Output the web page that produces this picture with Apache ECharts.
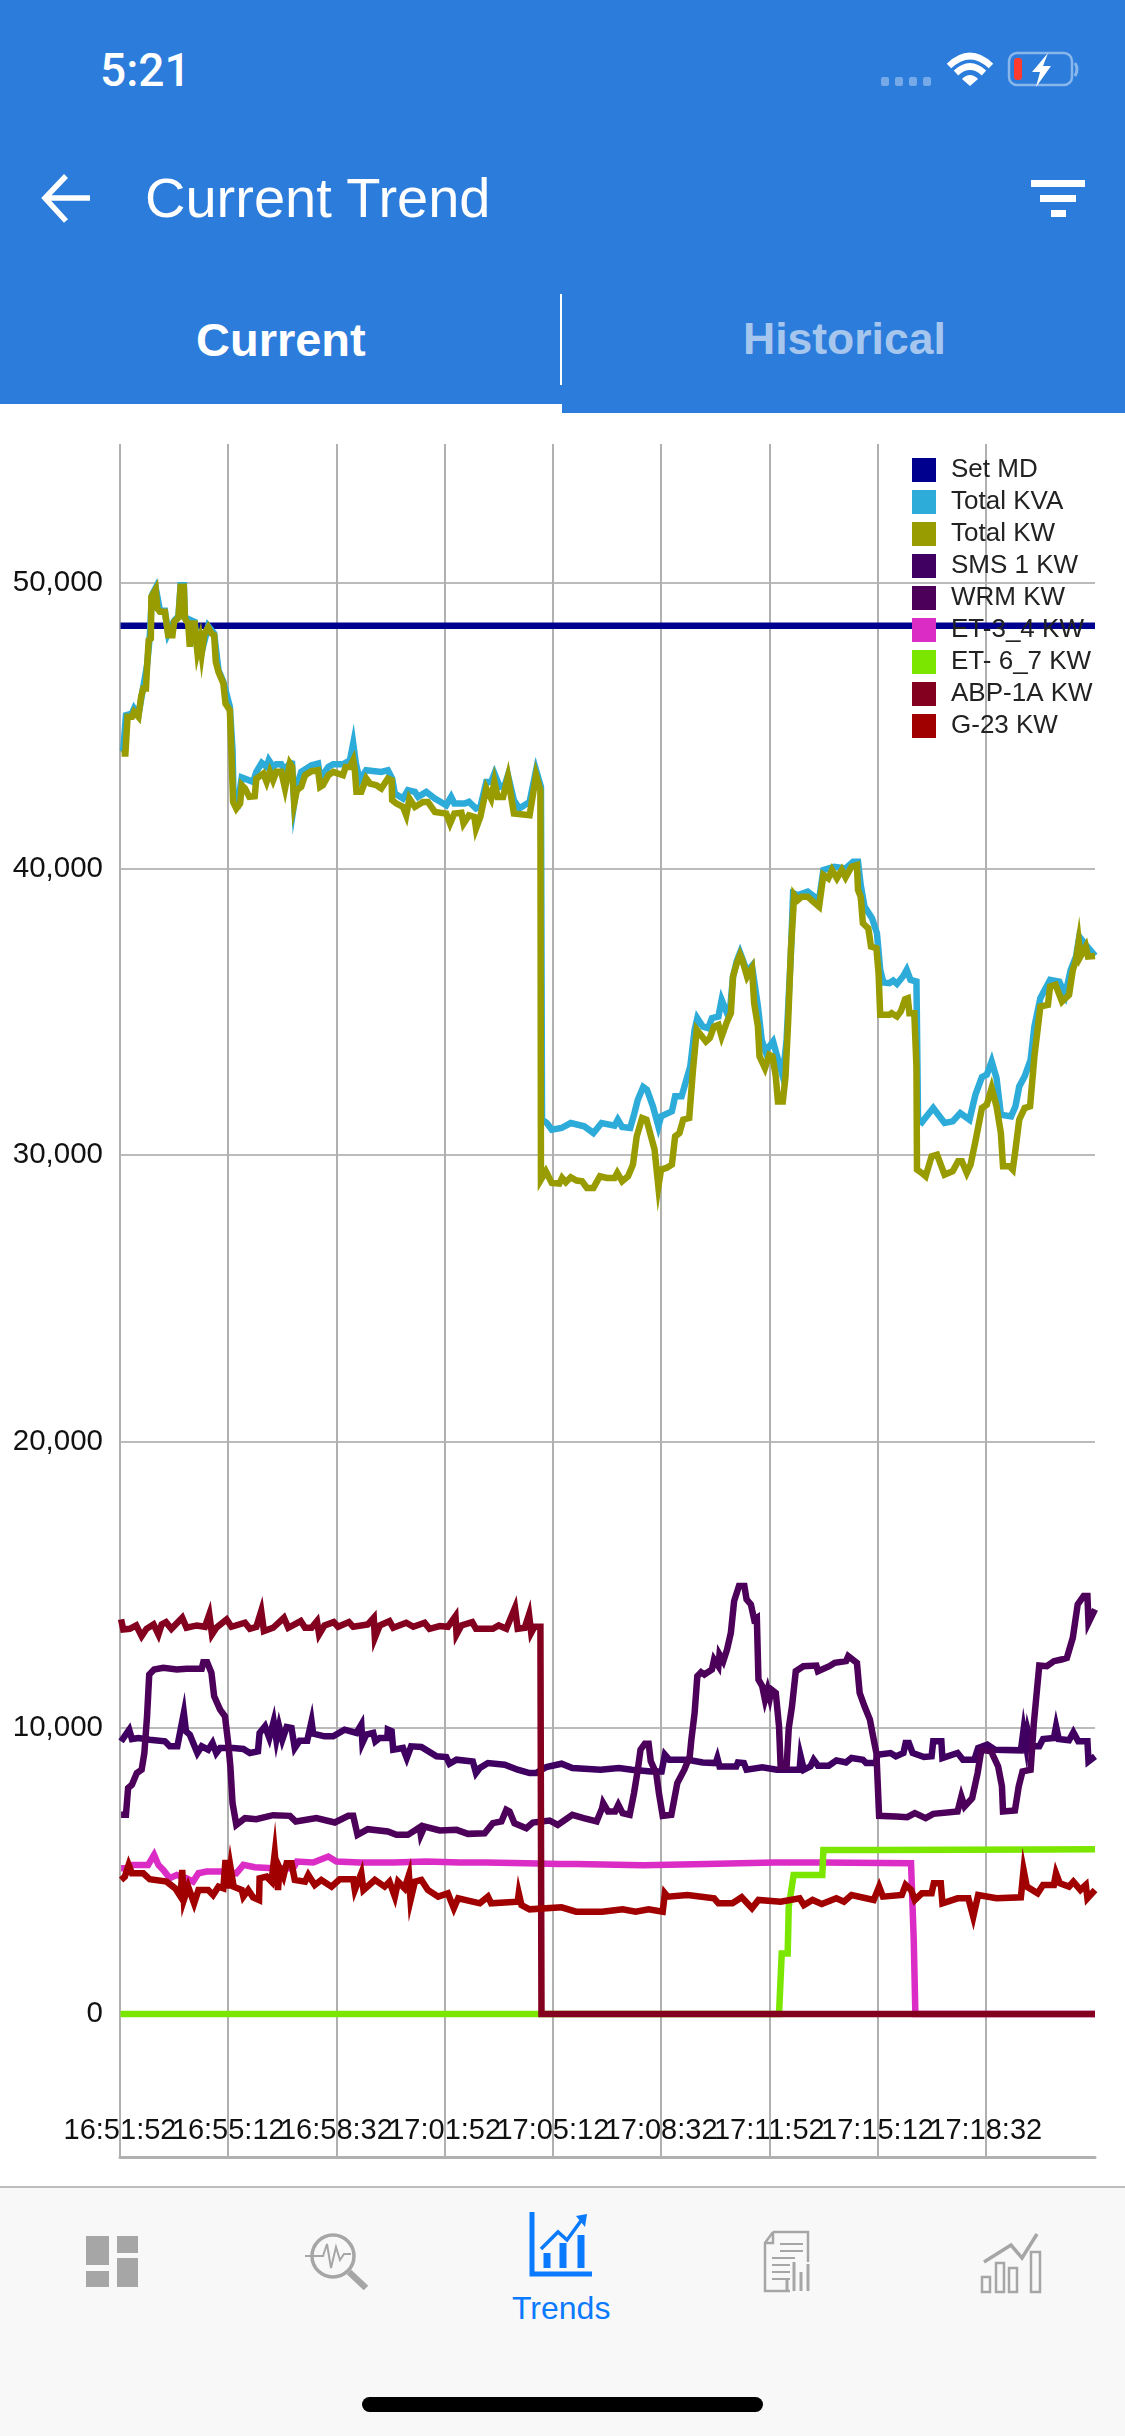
<!DOCTYPE html>
<html>
<head>
<meta charset="utf-8">
<title>Current Trend</title>
<script src="https://cdn.jsdelivr.net/npm/echarts@6/dist/echarts.min.js"></script>
<style>
  html, body { margin: 0; padding: 0; background: #fff; }
  #screen { position: relative; width: 1125px; height: 2436px; overflow: hidden; font-family: "Liberation Sans", sans-serif; }
  #chart { position: absolute; left: 0; top: 0; width: 1125px; height: 2436px; }
  .bar { position: absolute; }
  .label { position: absolute; white-space: nowrap; line-height: 1; }
  svg.icon { position: absolute; left: 0; top: 0; }
</style>
</head>
<body>
<div id="screen">
  <div id="chart"></div>

  <!-- App header -->
  <div class="bar" style="left:0;top:0;width:1125px;height:404px;background:#2b7cdb"></div>
  <div class="bar" style="left:562px;top:404px;width:563px;height:9px;background:#2b7cdb"></div>
  <div class="bar" style="left:560px;top:294px;width:2px;height:91px;background:#fff"></div>
  <div class="label" style="left:100px;top:43px;font:500 46px Roboto;color:#fff">5:21</div>
  <div class="label" style="left:145px;top:170px;font-size:56px;color:#fff">Current Trend</div>
  <div class="label" style="left:196px;top:316px;font-size:47px;font-weight:bold;color:#fff">Current</div>
  <div class="label" style="left:743px;top:317px;font-size:44.5px;font-weight:bold;color:#a6c6ee">Historical</div>

  <!-- Tab bar -->
  <div class="bar" style="left:0;top:2186px;width:1125px;height:250px;background:#f8f8f8;border-top:2px solid #bdbdbd;box-sizing:border-box"></div>
  <div class="label" style="left:512px;top:2292px;font-size:32px;color:#0a7aff">Trends</div>
  <div class="bar" style="left:362px;top:2397px;width:401px;height:15px;border-radius:8px;background:#000"></div>

  <svg class="icon" width="1125" height="2436" viewBox="0 0 1125 2436" fill="none">
    <!-- status bar -->
    <g fill="#fff" fill-opacity="0.35">
      <rect x="881" y="77" width="8" height="9" rx="2"/><rect x="895" y="77" width="8" height="9" rx="2"/>
      <rect x="909" y="77" width="8" height="9" rx="2"/><rect x="923" y="77" width="8" height="9" rx="2"/>
    </g>
    <g stroke="#fff" stroke-width="6.5" stroke-linecap="butt">
      <path d="M949 66 Q970 46 991 66"/><path d="M956 73 Q970 60 984 73"/>
    </g>
    <path d="M962 79 Q970 71 978 79 L970 86 Z" fill="#fff"/>
    <rect x="1009" y="53" width="63" height="32" rx="8" stroke="#fff" stroke-opacity="0.45" stroke-width="2.5"/>
    <path d="M1075 63 Q1079 69 1075 76" stroke="#fff" stroke-opacity="0.45" stroke-width="3"/>
    <rect x="1014" y="58" width="8" height="22" rx="3" fill="#ff3b30"/>
    <path d="M1048 53 L1032 72 L1040 72 L1036 87 L1051 66 L1043 66 Z" fill="#fff"/>
    <!-- back arrow -->
    <path d="M66 176 L45 198 L66 221 M45 198 H90" stroke="#fff" stroke-width="5.5"/>
    <!-- filter -->
    <g fill="#fff">
      <rect x="1031" y="180" width="54" height="7"/><rect x="1040" y="195" width="36" height="7"/><rect x="1051" y="210" width="15" height="7"/>
    </g>
    <!-- dashboard icon -->
    <g fill="#a6a6a6">
      <rect x="86" y="2236" width="23" height="29"/><rect x="117" y="2236" width="21" height="17"/>
      <rect x="86" y="2271" width="23" height="16"/><rect x="117" y="2258" width="21" height="29"/>
    </g>
    <!-- diagnostics icon -->
    <g stroke="#a6a6a6">
      <circle cx="333" cy="2256" r="21" stroke-width="3.5"/>
      <path d="M349 2272 L366 2288" stroke-width="6.5"/>
      <path d="M305 2256 H323 L327 2244 L331 2268 L336 2247 L340 2260 L344 2254 H351" stroke-width="2"/>
    </g>
    <!-- trends icon -->
    <g stroke="#0a7aff">
      <path d="M532 2212 V2274 H592" stroke-width="5"/>
      <path d="M541 2249 L558 2232 L567 2240 L583 2218" stroke-width="3.5"/>
      <path d="M547 2268 V2253 M563 2268 V2243 M581 2268 V2235" stroke-width="7"/>
    </g>
    <path d="M576 2216 L587 2214 L585 2227 Z" fill="#0a7aff"/>
    <!-- reports icon -->
    <g stroke="#a6a6a6">
      <path d="M773 2232 H808 V2262 M773 2232 L765 2243 V2291 H790 M773 2232 V2243 H765" stroke-width="2.5"/>
      <path d="M780 2244 H803 M780 2251 H803 M772 2258 H795 M772 2265 H790 M772 2272 H790 M772 2279 H790" stroke-width="2"/>
      <path d="M787 2291 V2280 M794 2291 V2262 M801 2291 V2272 M808 2291 V2264" stroke-width="3"/>
    </g>
    <!-- analytics icon -->
    <g stroke="#a6a6a6" stroke-width="2.5">
      <rect x="982" y="2277" width="8" height="15"/><rect x="996" y="2263" width="8" height="29"/>
      <rect x="1009" y="2268" width="8" height="24"/><rect x="1031" y="2252" width="9" height="40"/>
      <path d="M984 2262 L1011 2245 L1022 2258 L1037 2234" stroke-width="3.5"/>
    </g>
  </svg>
</div>
<script>
// Axis ticks: seconds since 16:51:52 and load in kW
var tickSeconds = [0, 200, 400, 600, 800, 1000, 1200, 1400, 1600];
var tickLabels = ['16:51:52', '16:55:12', '16:58:32', '17:01:52', '17:05:12', '17:08:32', '17:11:52', '17:15:12', '17:18:32'];
var loadTicks = [0, 10000, 20000, 30000, 40000, 50000];
var windowEnd = 1802;

var seriesNames = ['Set MD', 'Total KVA', 'Total KW', 'SMS 1 KW', 'WRM KW', 'ET-3_4 KW', 'ET- 6_7 KW', 'ABP-1A KW', 'G-23 KW'];
var seriesColors = ['#00008f', '#2dabd9', '#999c00', '#400062', '#4d005a', '#db2cc6', '#7be600', '#83001f', '#a00000'];

// Readings as [seconds, kW]
var setMd = [[1, 48500], [1802, 48500]];

var totalKva = [[2,44100],[6,44150],[11,45375],[22,45433],[26,45608],[34,45375],[43,46365],[50,47122],[55,48113],[59,49569],[66,49825],[74,49021],[83,49021],[89,48229],[100,48672],[108,48835],[112,49918],[118,49918],[120,48788],[138,48637],[143,47647],[151,47588],[163,48486],[174,48229],[182,46948],[191,46540],[203,45666],[208,44152],[210,42404],[218,42288],[225,43197],[246,43045],[252,43395],[262,43709],[271,43569],[275,43802],[283,43569],[289,43662],[298,43662],[305,43453],[314,43709],[318,43686],[322,42300],[327,42928],[335,43395],[354,43628],[366,43686],[370,43162],[385,43569],[394,43662],[412,43662],[425,43802],[431,44385],[436,43686],[443,43103],[455,43453],[483,43395],[495,43453],[503,43162],[508,42637],[523,42463],[532,42754],[545,42696],[551,42521],[566,42696],[582,42463],[603,42229],[612,42521],[618,42288],[637,42288],[645,42346],[658,42113],[666,42171],[677,43045],[686,43045],[692,43337],[702,42870],[711,42929],[717,43278],[728,42404],[738,42113],[757,42346],[769,43453],[778,42870],[780,31243],[789,31126],[798,30894],[816,30952],[833,31126],[858,31010],[875,30778],[890,31126],[914,31033],[920,31243],[928,30987],[943,30952],[950,31417],[957,31941],[967,32382],[974,32289],[985,31708],[995,31010],[1000,31359],[1020,31534],[1026,32057],[1038,32057],[1045,32522],[1054,33103],[1062,34383],[1067,34790],[1077,34499],[1087,34441],[1094,34790],[1106,34848],[1112,35430],[1122,34964],[1128,35197],[1133,36244],[1140,36790],[1146,37081],[1159,36418],[1168,36616],[1179,35197],[1186,34034],[1193,33627],[1207,33976],[1218,33220],[1225,32755],[1232,34034],[1240,37058],[1244,39151],[1253,39093],[1271,39209],[1292,38918],[1300,39965],[1320,40081],[1341,40023],[1355,40256],[1364,40256],[1369,39442],[1376,38686],[1390,38279],[1399,37755],[1405,36476],[1411,36034],[1422,36011],[1429,36104],[1436,35988],[1447,36244],[1454,36476],[1461,36127],[1472,36069],[1475,31243],[1482,31150],[1493,31417],[1503,31650],[1524,31126],[1539,31185],[1553,31475],[1570,31243],[1581,32115],[1593,32731],[1602,32813],[1611,33278],[1620,32696],[1628,31417],[1647,31359],[1655,31708],[1662,32406],[1672,32755],[1683,33336],[1690,34499],[1701,35488],[1719,36127],[1736,36069],[1747,35604],[1757,36476],[1767,36941],[1773,37639],[1785,37348],[1802,36964]];

var totalKw = [[3,44035],[10,44035],[14,45317],[22,45317],[26,45490],[34,45317],[39,46015],[43,46307],[48,46307],[50,47064],[53,47996],[57,48054],[58,49511],[66,49767],[69,49103],[74,48987],[83,48987],[89,48171],[97,48171],[100,48637],[108,48788],[112,49860],[118,49860],[120,48754],[126,48579],[129,47763],[132,48579],[138,48579],[143,47588],[148,47996],[151,47530],[156,48229],[163,48439],[169,48229],[174,48171],[177,47239],[182,46889],[191,46482],[195,45783],[203,45550],[206,44035],[209,42346],[215,42113],[222,42288],[225,42928],[231,42812],[239,42521],[249,42544],[252,43162],[265,43337],[271,43045],[277,43395],[283,43103],[289,43395],[298,43395],[305,42812],[314,43686],[318,43569],[322,42300],[327,42754],[335,42870],[342,43278],[354,43418],[366,43453],[370,42870],[375,42928],[385,43278],[394,43395],[412,43278],[417,43569],[425,43569],[431,43802],[434,43453],[437,42696],[446,42696],[455,43162],[462,42987],[474,42928],[483,42812],[495,43162],[502,43103],[503,42404],[511,42288],[523,42171],[529,41880],[535,42463],[545,42171],[560,42346],[569,42346],[582,41997],[603,41938],[610,41589],[618,41938],[631,41962],[635,41589],[645,41880],[655,41822],[658,41414],[666,41822],[677,42812],[686,42463],[692,43045],[698,42521],[708,42521],[717,43220],[728,41938],[757,41880],[769,43278],[777,42754],[778,29150],[787,29440],[798,29033],[812,29010],[817,29207],[824,29056],[833,29230],[844,29115],[854,29091],[863,28858],[875,28858],[887,29265],[900,29207],[914,29207],[919,29381],[928,29091],[939,29265],[948,29672],[955,30661],[965,31300],[973,31243],[988,30196],[995,28900],[1000,29498],[1010,29556],[1020,29672],[1026,30661],[1034,30777],[1041,31243],[1052,31300],[1059,32987],[1066,34383],[1083,33976],[1090,34092],[1098,34499],[1106,34557],[1112,34150],[1122,34673],[1129,34964],[1133,36244],[1140,36709],[1146,37000],[1150,36825],[1159,36244],[1168,36534],[1172,35313],[1179,34499],[1182,33452],[1192,33045],[1200,33510],[1206,33452],[1212,32755],[1216,31882],[1225,31882],[1230,32755],[1235,34732],[1240,37174],[1246,39093],[1253,38918],[1260,39035],[1271,39035],[1281,38860],[1292,38686],[1300,39791],[1309,39674],[1316,39965],[1325,39674],[1334,39965],[1341,39709],[1352,40081],[1362,40140],[1364,39267],[1369,39035],[1373,38104],[1383,37930],[1388,37290],[1398,37232],[1402,36360],[1405,34906],[1422,34906],[1426,34964],[1436,34848],[1443,35022],[1451,35453],[1456,35487],[1459,34964],[1468,34964],[1472,33103],[1473,29498],[1482,29381],[1489,29265],[1500,29963],[1510,30021],[1524,29323],[1539,29440],[1549,29789],[1556,29789],[1565,29381],[1572,29672],[1581,30487],[1593,31650],[1602,31766],[1611,32347],[1620,31708],[1628,30777],[1632,29614],[1644,29614],[1650,29498],[1655,30196],[1662,31243],[1672,31650],[1682,31708],[1690,33452],[1701,35197],[1715,35255],[1719,35895],[1729,35953],[1741,35371],[1754,35604],[1761,36476],[1767,36825],[1772,37465],[1775,36941],[1785,37290],[1789,36941],[1802,36964]];

var sms1Kw = [[2,9523],[17,9931],[22,9604],[34,9640],[55,9581],[83,9523],[92,9348],[106,9348],[118,10515],[122,9873],[129,9756],[143,9114],[151,9348],[163,9231],[171,9464],[178,9114],[185,9289],[209,9289],[228,9254],[240,9114],[255,9173],[258,9814],[268,10048],[276,9640],[284,10223],[289,9581],[294,10048],[300,9581],[308,10024],[317,9990],[323,9289],[332,9546],[346,9546],[354,10223],[357,9791],[378,9698],[394,9698],[415,9931],[437,9814],[446,10106],[448,9464],[455,9756],[468,9814],[472,9523],[480,9640],[494,9640],[495,9931],[502,9873],[505,9231],[523,9289],[530,8939],[538,9348],[557,9324],[585,8998],[603,8974],[609,8741],[622,8881],[652,8822],[658,8414],[665,8589],[680,8764],[711,8706],[735,8531],[757,8414],[769,8414],[788,8624],[816,8741],[836,8589],[888,8531],[922,8589],[946,8531],[981,8473],[1001,8473],[1007,9056],[1015,8881],[1049,8881],[1077,8787],[1101,8764],[1104,8939],[1108,8647],[1139,8647],[1142,8787],[1153,8764],[1158,8531],[1187,8612],[1214,8531],[1256,8531],[1258,8998],[1264,8531],[1276,8647],[1282,8881],[1290,8671],[1310,8671],[1324,8858],[1342,8787],[1352,8939],[1373,8881],[1379,8764],[1397,8764],[1400,9056],[1424,9114],[1434,8998],[1448,9114],[1452,9464],[1458,9464],[1465,9114],[1486,8974],[1500,8998],[1503,9523],[1518,9523],[1520,8939],[1548,9114],[1558,8881],[1579,8881],[1586,9289],[1603,9406],[1617,9231],[1665,9207],[1670,9931],[1675,9348],[1678,9873],[1685,9348],[1699,9348],[1706,9604],[1726,9640],[1730,10048],[1735,9604],[1754,9558],[1762,9838],[1771,9523],[1788,9523],[1790,8822],[1802,8998]];

var wrmKw = [[2,6955],[11,6955],[15,7889],[22,8006],[31,8414],[40,8531],[45,9114],[50,10398],[54,11857],[63,12032],[80,12090],[105,12032],[123,12055],[151,12055],[154,12289],[161,12289],[169,11915],[174,11098],[185,10632],[194,10398],[200,9464],[204,8647],[208,7364],[215,6605],[231,6839],[252,6804],[283,6944],[314,6920],[325,6722],[363,6839],[397,6687],[422,6920],[431,6920],[439,6255],[458,6454],[495,6372],[511,6255],[532,6255],[554,6524],[556,6255],[563,6547],[591,6407],[622,6430],[643,6290],[674,6313],[689,6664],[705,6722],[714,7130],[720,7072],[729,6664],[751,6489],[763,6687],[794,6757],[809,6605],[836,6955],[857,6839],[881,6722],[891,7189],[893,7364],[902,7072],[915,7072],[921,7305],[929,7014],[942,6955],[950,7714],[957,8531],[962,9231],[970,9441],[977,9441],[981,8822],[991,8414],[996,7714],[1003,6920],[1019,6955],[1030,8064],[1043,8531],[1053,8998],[1056,9581],[1062,10515],[1067,11799],[1074,11938],[1080,11857],[1094,12032],[1098,12382],[1106,12148],[1108,12557],[1115,12324],[1122,12732],[1129,13316],[1135,14424],[1144,14949],[1154,14949],[1158,14482],[1166,14307],[1172,13783],[1177,13841],[1180,11682],[1187,11448],[1192,10982],[1197,11332],[1201,11040],[1204,11332],[1212,11215],[1218,10048],[1221,8647],[1232,8647],[1236,9990],[1242,10748],[1249,11973],[1263,12148],[1287,12172],[1290,11973],[1311,12148],[1321,12265],[1342,12324],[1346,12499],[1362,12265],[1367,11215],[1376,10748],[1386,10281],[1393,9581],[1398,9114],[1403,6920],[1434,6897],[1455,6874],[1469,7014],[1489,6839],[1503,6990],[1548,7072],[1555,7597],[1561,7247],[1575,7539],[1585,8414],[1592,9231],[1610,9173],[1623,8647],[1630,7947],[1632,7072],[1654,7107],[1661,7947],[1668,8472],[1683,8531],[1689,10165],[1699,12172],[1713,12148],[1726,12324],[1740,12382],[1750,12440],[1761,13141],[1770,14307],[1781,14599],[1788,14599],[1790,13666],[1802,14132]];

var et34Kw = [[2,5088],[12,5088],[22,5205],[37,5205],[52,5205],[63,5555],[71,5205],[80,5030],[92,4738],[105,4855],[123,4738],[135,4621],[145,4913],[160,4971],[191,4971],[215,4913],[228,5205],[249,5123],[283,5088],[320,5088],[327,5322],[357,5287],[385,5497],[400,5322],[443,5287],[505,5287],[566,5322],[628,5287],[677,5287],[751,5263],[812,5240],[843,5240],[967,5193],[1084,5240],[1208,5287],[1297,5287],[1462,5263],[1467,2579],[1470,0],[1802,0]];

var et67Kw = [[1,0],[1218,0],[1223,2112],[1234,2112],[1236,3746],[1245,4855],[1298,4855],[1300,5730],[1400,5725],[1550,5735],[1700,5745],[1802,5753]];

var abp1aKw = [[2,13782],[6,13432],[18,13455],[30,13572],[40,13199],[49,13455],[62,13607],[71,13257],[77,13607],[85,13689],[95,13455],[115,13840],[123,13490],[142,13572],[157,13525],[165,13957],[170,13257],[178,13490],[197,13782],[206,13525],[231,13666],[240,13455],[252,13525],[261,14074],[266,13373],[283,13490],[303,13840],[311,13490],[334,13724],[342,13490],[354,13490],[364,13724],[368,13257],[378,13572],[395,13689],[403,13525],[423,13689],[431,13525],[458,13607],[469,13840],[471,13140],[480,13572],[498,13724],[505,13490],[529,13666],[542,13525],[563,13666],[572,13455],[591,13549],[606,13525],[620,13899],[622,13257],[631,13572],[651,13689],[658,13455],[689,13455],[700,13572],[714,13455],[730,14191],[735,13455],[748,13490],[756,13957],[760,13315],[766,13525],[777,13525],[779,0],[1802,0]];

var g23Kw = [[2,4680],[9,4796],[16,5205],[22,4913],[43,4913],[55,4703],[86,4621],[102,4388],[112,4096],[115,5030],[118,3980],[126,4446],[137,3863],[145,4330],[163,4330],[172,4155],[182,4446],[191,4388],[195,5380],[199,4388],[204,5146],[210,4446],[225,4330],[228,4096],[237,4330],[246,4073],[257,3980],[258,4738],[271,4796],[280,4621],[286,5613],[292,4330],[295,5088],[302,4796],[308,5263],[317,5263],[323,4680],[342,4621],[348,4855],[360,4505],[372,4680],[391,4446],[406,4703],[431,4703],[434,4330],[446,4913],[450,4330],[471,4680],[489,4446],[498,4621],[508,4096],[514,4621],[526,4388],[534,4855],[537,3980],[545,4621],[557,4680],[569,4330],[588,4096],[606,4213],[617,3688],[625,4038],[665,3863],[680,4096],[686,3863],[735,3921],[737,4213],[742,3804],[757,3653],[816,3723],[843,3571],[891,3571],[929,3653],[953,3571],[977,3653],[1003,3571],[1007,4213],[1012,4096],[1049,4155],[1098,4038],[1106,3863],[1132,3863],[1149,4073],[1168,3688],[1180,3980],[1221,3921],[1256,4038],[1264,3804],[1280,3980],[1297,3840],[1324,4038],[1338,3921],[1352,4155],[1393,3980],[1403,4446],[1410,4096],[1445,4155],[1452,4505],[1462,4330],[1469,3980],[1482,4213],[1500,4213],[1504,4563],[1517,4563],[1520,3863],[1548,4038],[1568,4038],[1577,3396],[1586,4155],[1620,4038],[1665,4073],[1670,5030],[1676,4446],[1696,4213],[1706,4505],[1726,4505],[1730,4913],[1737,4563],[1754,4446],[1762,4621],[1775,4330],[1785,4505],[1788,4038],[1802,4330]];

var seriesData = [setMd, totalKva, totalKw, sms1Kw, wrmKw, et34Kw, et67Kw, abp1aKw, g23Kw];

// The axis drops its first and last label, so a spare entry sits at each end and the stamps stay
var labelValues = [0].concat(tickSeconds, [windowEnd]);

var chart = echarts.init(document.getElementById('chart'));
chart.setOption({
  animation: false,
  backgroundColor: '#fff',
  color: seriesColors,
  grid: { left: 120, right: 30, top: 444, bottom: 279, containLabel: false },
  legend: {
    left: 912, top: 457, padding: 0,
    orient: 'vertical',
    icon: 'rect',
    itemWidth: 24, itemHeight: 24, itemGap: 6,
    selectedMode: false,
    data: seriesNames,
    textStyle: { fontFamily: 'Liberation Sans', fontSize: 26, color: '#222', padding: [0, 0, 0, 10] }
  },
  xAxis: {
    type: 'value',
    min: 0, max: windowEnd,
    axisLine: { show: true, onZero: false, lineStyle: { color: '#b0b0b0', width: 3 } },
    axisTick: { show: false, customValues: tickSeconds },
    splitLine: { show: true, lineStyle: { color: '#b0b0b0', width: 2 } },
    axisLabel: {
      customValues: labelValues,
      inside: true,
      margin: 12,
      showMinLabel: false,
      showMaxLabel: false,
      color: '#111',
      fontFamily: 'Liberation Sans', fontSize: 29,
      hideOverlap: false,
      formatter: function (sec) { return tickLabels[tickSeconds.indexOf(sec)] || ''; }
    }
  },
  yAxis: {
    type: 'value',
    min: -5000, max: 54850,
    axisLine: { show: false },
    axisTick: { show: false, customValues: loadTicks },
    splitLine: { show: true, lineStyle: { color: '#a4a4a4', width: 1.5 } },
    axisLabel: {
      customValues: loadTicks,
      margin: 17,
      showMinLabel: true,
      showMaxLabel: true,
      color: '#111',
      fontFamily: 'Liberation Sans', fontSize: 29.5,
      formatter: function (v) { return v.toLocaleString('en-US'); }
    }
  },
  series: seriesNames.map(function (name, i) {
    return {
      name: name,
      type: 'line',
      data: seriesData[i],
      showSymbol: false,
      symbol: 'none',
      smooth: false,
      clip: false,
      lineStyle: { width: 6.5, join: 'miter', miterLimit: 10, cap: 'butt', color: seriesColors[i] }
    };
  })
});
</script>
</body>
</html>
